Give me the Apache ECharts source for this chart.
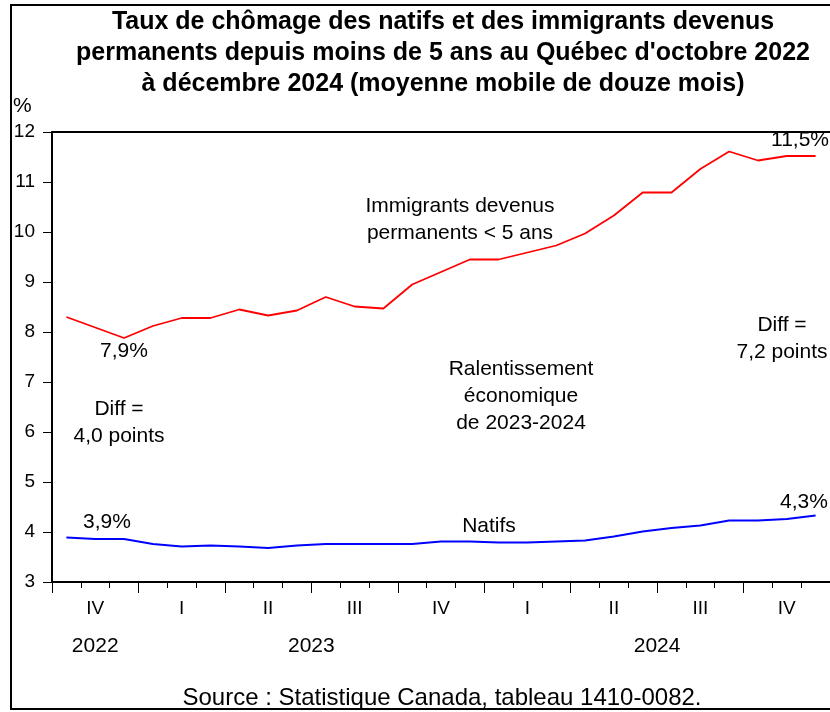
<!DOCTYPE html>
<html>
<head>
<meta charset="utf-8">
<script src="https://cdn.jsdelivr.net/npm/echarts@6/dist/echarts.min.js"></script>
<style>
  html, body { margin: 0; padding: 0; background: #fff; }
  #chart { width: 830px; height: 712px; }
</style>
</head>
<body>
<div id="chart"></div>
<script>
// mois d'octobre 2022 à décembre 2024
const months = [
  '2022-10', '2022-11', '2022-12',
  '2023-01', '2023-02', '2023-03', '2023-04', '2023-05', '2023-06',
  '2023-07', '2023-08', '2023-09', '2023-10', '2023-11', '2023-12',
  '2024-01', '2024-02', '2024-03', '2024-04', '2024-05', '2024-06',
  '2024-07', '2024-08', '2024-09', '2024-10', '2024-11', '2024-12',
]
// taux de chômage, moyenne mobile 12 mois (%)
const immigrants = [
  8.30, 8.09, 7.88,
  8.12, 8.28, 8.28, 8.45, 8.33, 8.43, 8.70, 8.51, 8.47, 8.95, 9.20, 9.45,
  9.45, 9.59, 9.73, 9.97, 10.33, 10.79, 10.79, 11.26, 11.61, 11.43, 11.52, 11.52,
]
const natifs = [
  3.89, 3.86, 3.86,
  3.76, 3.71, 3.73, 3.71, 3.68, 3.73, 3.76, 3.76, 3.76, 3.76, 3.81, 3.81,
  3.79, 3.79, 3.81, 3.83, 3.91, 4.01, 4.08, 4.13, 4.23, 4.23, 4.26, 4.33,
]
const quarters = ['IV', 'I', 'II', 'III', 'IV', 'I', 'II', 'III', 'IV']
const years = ['2022', '2023', '2024']
const yearMonths = [3, 12, 12]   // nombre de mois par année dans la période
const yTicks = { min: 3, max: 12, step: 1 }

// centres des années (en mois depuis octobre 2022)
const yearCenters = []
let acc = 0
yearMonths.forEach(n => { yearCenters.push(acc + n / 2); acc += n })

const FONT = 'Liberation Sans, Arial, Helvetica, sans-serif'
const BLACK = '#000'

function note(text, x, y, size = 21) {
  return {
    type: 'text', x, y, silent: true, z: 10,
    style: {
      text, fill: BLACK, font: `${size}px ${FONT}`,
      textAlign: 'center', textVerticalAlign: 'middle', lineHeight: 27,
    },
  }
}

const chart = echarts.init(document.getElementById('chart'))

// la zone de tracé déborde un peu à droite : l'original est rogné à cet endroit
const plotRect = { left: 52, top: 132, right: -2, height: 450 }

chart.setOption({
  animation: false,
  textStyle: { fontFamily: FONT, color: BLACK },
  title: {
    text: 'Taux de chômage des natifs et des immigrants devenus\n' +
          'permanents depuis moins de 5 ans au Québec d\'octobre 2022\n' +
          'à décembre 2024 (moyenne mobile de douze mois)',
    left: 443, top: 7, padding: 0,
    textAlign: 'center',
    textStyle: { fontSize: 25, fontWeight: 'bold', lineHeight: 31, color: BLACK, fontFamily: FONT },
  },
  grid: [{ ...plotRect }, { ...plotRect }],
  xAxis: [
    {
      // mois (séries) + trimestres
      gridIndex: 0, type: 'category', data: months, boundaryGap: true, position: 'bottom',
      axisLine: { lineStyle: { color: BLACK, width: 2 } },
      axisTick: { show: false },
      axisLabel: {
        interval: (i) => i % 3 === 1,
        formatter: (v, i) => quarters[Math.floor(i / 3)],
        margin: 17, fontSize: 19, color: BLACK,
      },
      splitLine: { show: false },
    },
    {
      // bordure du haut
      gridIndex: 0, type: 'category', data: months, position: 'top',
      axisLine: { lineStyle: { color: BLACK, width: 2 } },
      axisTick: { show: false }, axisLabel: { show: false }, splitLine: { show: false },
    },
    {
      // traits : trimestres (longs) et mois (courts) + années
      gridIndex: 1, type: 'value', min: 0, max: months.length, interval: 3, position: 'bottom',
      axisLine: { show: false },
      axisTick: { show: true, length: 11, lineStyle: { color: BLACK, width: 1 } },
      minorTick: { show: true, splitNumber: 3, length: 6, lineStyle: { color: BLACK, width: 1 } },
      axisLabel: {
        customValues: yearCenters,
        formatter: v => years[yearCenters.indexOf(v)] ?? '',
        margin: 54, fontSize: 21, color: BLACK,
      },
      splitLine: { show: false },
      minorSplitLine: { show: false },
    },
  ],
  yAxis: [
    {
      gridIndex: 0, type: 'value', min: yTicks.min, max: yTicks.max, interval: yTicks.step,
      axisLine: { show: true, lineStyle: { color: BLACK, width: 2 } },
      axisTick: { show: true, length: 9, lineStyle: { color: BLACK, width: 1 } },
      axisLabel: { margin: 17, fontSize: 19, color: BLACK },
      splitLine: { show: false },
    },
    { gridIndex: 1, type: 'value', min: 0, max: 1, show: false },
  ],
  series: [
    {
      name: 'Immigrants devenus permanents < 5 ans', type: 'line',
      xAxisIndex: 0, yAxisIndex: 0, data: immigrants,
      symbol: 'none', lineStyle: { color: '#ff0000', width: 1.8 },
    },
    {
      name: 'Natifs', type: 'line',
      xAxisIndex: 0, yAxisIndex: 0, data: natifs,
      symbol: 'none', lineStyle: { color: '#0000ff', width: 1.8 },
    },
  ],
  graphic: [
    {
      // cadre extérieur (ouvert à droite, comme l'original rogné)
      type: 'polyline', silent: true, z: 0,
      shape: { points: [[940, 5], [11, 5], [11, 709], [940, 709]] },
      style: { fill: null, stroke: BLACK, lineWidth: 2 },
    },
    {
      type: 'text', x: 13, y: 106, silent: true,
      style: { text: '%', fill: BLACK, font: `21px ${FONT}`, textAlign: 'left', textVerticalAlign: 'middle' },
    },
    note('Immigrants devenus\npermanents < 5 ans', 460, 220),
    note('7,9%', 124, 351),
    note('11,5%', 800, 140),
    note('Diff =\n7,2 points', 782, 339),
    note('Diff =\n4,0 points', 119, 423),
    note('Ralentissement\néconomique\nde 2023-2024', 521, 396),
    note('Natifs', 489, 526),
    note('3,9%', 107, 522),
    note('4,3%', 804, 502),
    note('Source : Statistique Canada, tableau 1410-0082.', 442, 698, 24),
  ],
})
</script>
</body>
</html>
